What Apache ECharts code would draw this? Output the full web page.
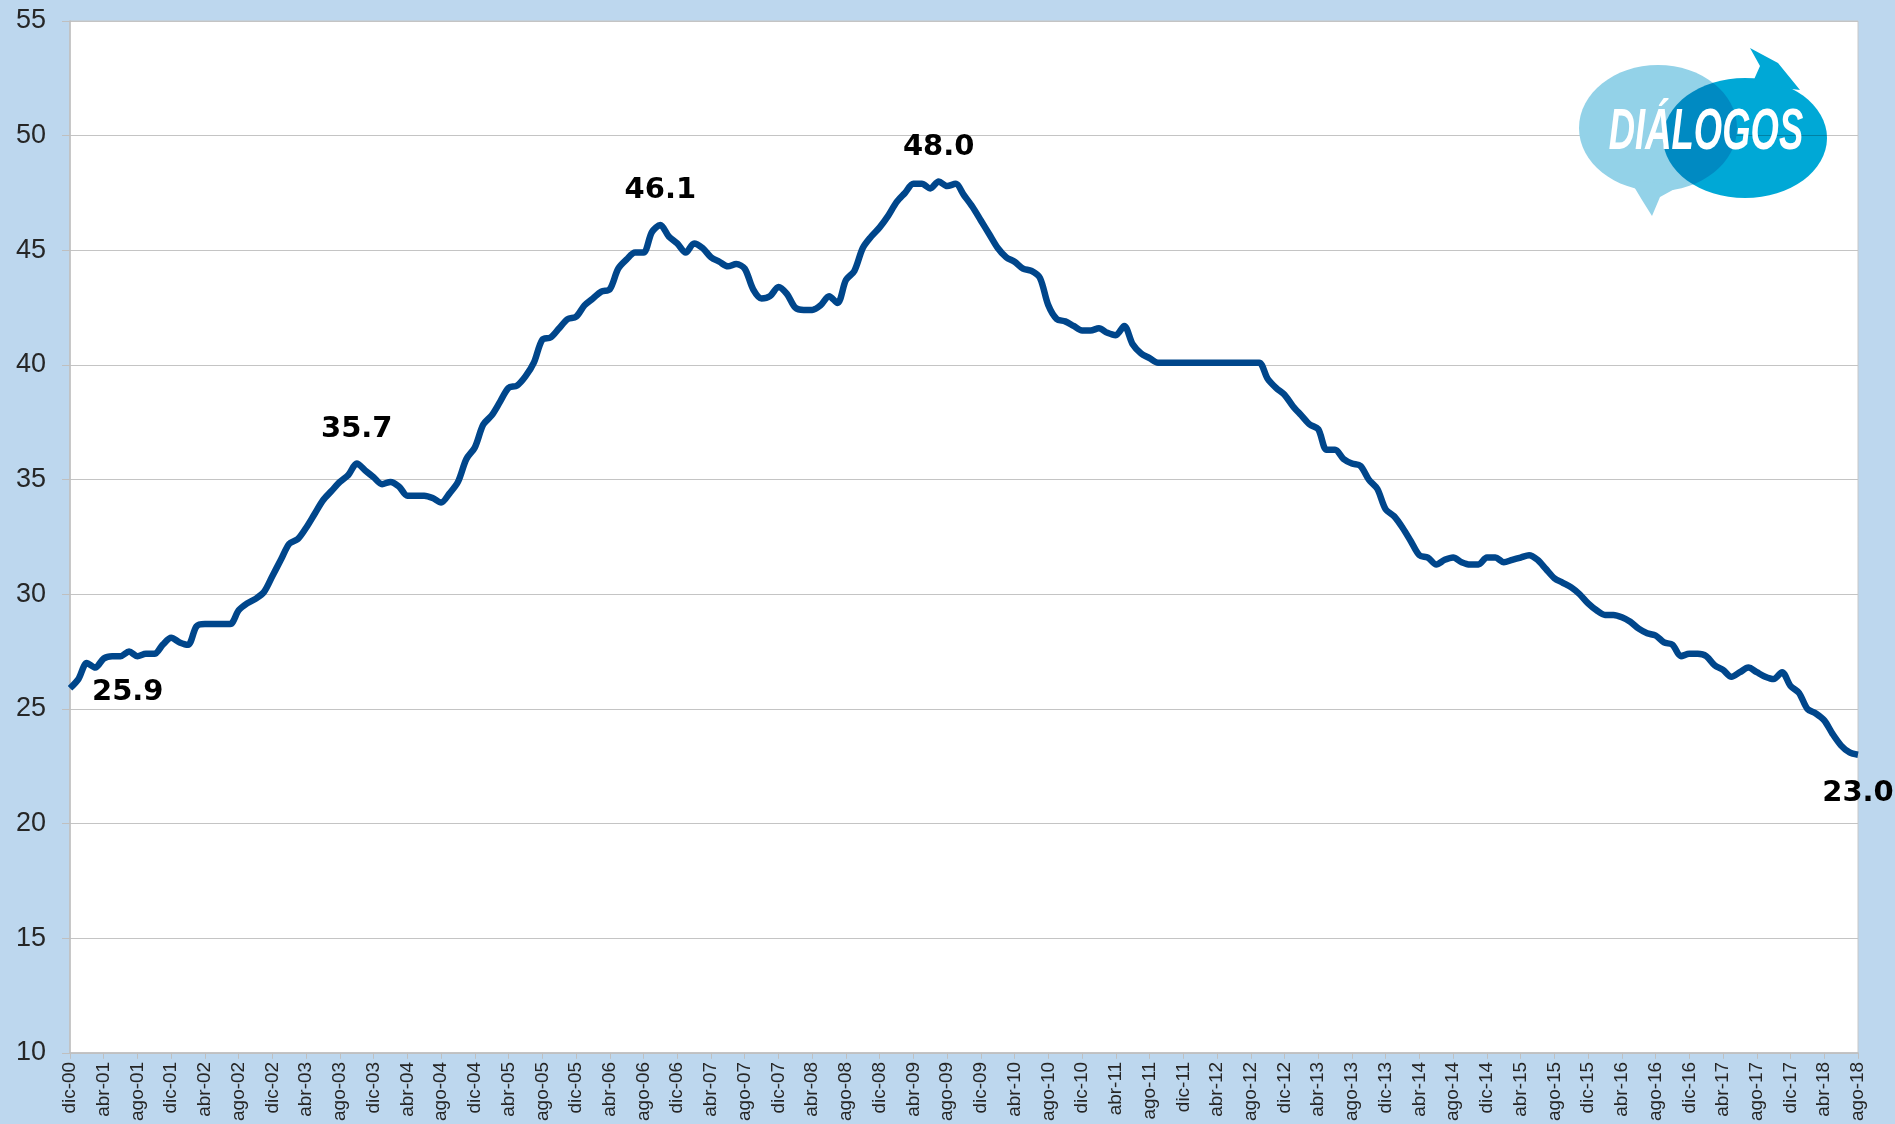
<!DOCTYPE html>
<html>
<head>
<meta charset="utf-8">
<script src="https://cdn.jsdelivr.net/npm/echarts@6/dist/echarts.min.js"></script>
<style>
  html, body { margin: 0; padding: 0; background: #bdd7ee; }
  #chart { width: 1895px; height: 1124px; }
</style>
</head>
<body>
<div id="chart"></div>
<script>
// meses en castellano, serie mensual dic-00 .. ago-18
const monthNames = ["ene", "feb", "mar", "abr", "may", "jun", "jul", "ago", "sep", "oct", "nov", "dic"];
const startYear = 2000;
const startMonth = 11; // dic

// valores, por bloques (el primero incluye dic-00)
const values2001 = [25.9, 26.3, 27.0, 26.8, 27.2, 27.3, 27.3, 27.5, 27.3, 27.4, 27.4, 27.8, 28.1];
const values2002 = [27.9, 27.8, 28.6, 28.7, 28.7, 28.7, 28.7, 29.3, 29.6, 29.8, 30.1, 30.8];
const values2003 = [31.5, 32.2, 32.4, 32.9, 33.5, 34.1, 34.5, 34.9, 35.2, 35.7, 35.4, 35.1];
const values2004 = [34.8, 34.9, 34.7, 34.3, 34.3, 34.3, 34.2, 34.0, 34.4, 34.9, 35.9, 36.4];
const values2005 = [37.4, 37.8, 38.4, 39.0, 39.1, 39.5, 40.1, 41.1, 41.2, 41.6, 42.0, 42.1];
const values2006 = [42.6, 42.9, 43.2, 43.3, 44.2, 44.6, 44.9, 44.9, 45.8, 46.1, 45.6, 45.3];
const values2007 = [44.9, 45.3, 45.1, 44.7, 44.5, 44.3, 44.4, 44.2, 43.3, 42.9, 43.0, 43.4];
const values2008 = [43.1, 42.5, 42.4, 42.4, 42.6, 43.0, 42.7, 43.7, 44.1, 45.1, 45.6, 46.0];
const values2009 = [46.5, 47.1, 47.5, 47.9, 47.9, 47.7, 48.0, 47.8, 47.9, 47.4, 46.9, 46.3];
const values2010 = [45.7, 45.1, 44.7, 44.5, 44.2, 44.1, 43.8, 42.6, 42.0, 41.9, 41.7, 41.5];
const values2011 = [41.5, 41.6, 41.4, 41.3, 41.7, 40.9, 40.5, 40.3, 40.1, 40.1, 40.1, 40.1];
const values2012 = [40.1, 40.1, 40.1, 40.1, 40.1, 40.1, 40.1, 40.1, 40.1, 39.4, 39.0, 38.7];
const values2013 = [38.2, 37.8, 37.4, 37.2, 36.3, 36.3, 35.9, 35.7, 35.6, 35.0, 34.6, 33.7];
const values2014 = [33.4, 32.9, 32.3, 31.7, 31.6, 31.3, 31.5, 31.6, 31.4, 31.3, 31.3, 31.6];
const values2015 = [31.6, 31.4, 31.5, 31.6, 31.7, 31.5, 31.1, 30.7, 30.5, 30.3, 30.0, 29.6];
const values2016 = [29.3, 29.1, 29.1, 29.0, 28.8, 28.5, 28.3, 28.2, 27.9, 27.8, 27.3, 27.4];
const values2017 = [27.4, 27.3, 26.9, 26.7, 26.4, 26.6, 26.8, 26.6, 26.4, 26.3, 26.6, 26.0];
const values2018 = [25.7, 25.0, 24.8, 24.5, 23.9, 23.4, 23.1, 23.0];

const values = [].concat(values2001, values2002, values2003, values2004, values2005,
  values2006, values2007, values2008, values2009, values2010, values2011, values2012,
  values2013, values2014, values2015, values2016, values2017, values2018);

// puntos con etiqueta
const labelIndex = [0, 34, 70, 103, 212];
const labelPos = ["right", "top", "top", "top", "bottom"];

const yTicks = [10, 15, 20, 25, 30, 35, 40, 45, 50, 55];

const categories = values.map((v, i) => {
  const m = (startMonth + i) % 12;
  const y = startYear + Math.floor((startMonth + i) / 12);
  return monthNames[m] + "-" + String(y % 100).padStart(2, "0");
});

const seriesData = values.map((v, i) => {
  const k = labelIndex.indexOf(i);
  if (k < 0) return v;
  const pos = labelPos[k];
  return {
    value: v,
    label: {
      show: true,
      position: pos,
      distance: pos === "right" ? 22 : (pos === "bottom" ? 24 : 20),
      offset: pos === "right" ? [0, 4] : [0, 0],
    },
  };
});

const chart = echarts.init(document.getElementById("chart"));

const option = {
  animation: false,
  backgroundColor: "#bdd7ee",
  grid: {
    left: 70,
    right: 37,
    top: 21,
    bottom: 70,
    show: true,
    backgroundColor: "#ffffff",
    borderColor: "#c8c8c8",
    borderWidth: 1,
  },
  xAxis: {
    type: "category",
    data: categories,
    boundaryGap: false,
    axisLine: { lineStyle: { color: "#bfbfbf", width: 1.5 } },
    axisTick: { interval: 3, length: 6, lineStyle: { color: "#bfbfbf" } },
    axisLabel: {
      interval: 3,
      rotate: 90,
      margin: 9,
      fontFamily: "Liberation Sans",
      fontSize: 19,
      color: "#262626",
    },
    splitLine: { show: false },
  },
  yAxis: {
    type: "value",
    min: yTicks[0],
    max: yTicks[yTicks.length - 1],
    interval: 5,
    axisLine: { show: true, lineStyle: { color: "#bfbfbf", width: 1.5 } },
    axisTick: { show: true, length: 8, lineStyle: { color: "#bfbfbf" } },
    axisLabel: {
      margin: 24,
      fontFamily: "Liberation Sans",
      fontSize: 27,
      color: "#262626",
    },
    splitLine: { lineStyle: { color: "#c4c4c4", width: 1.2 } },
  },
  series: [
    {
      type: "line",
      data: seriesData,
      smooth: 0.3,
      symbol: "circle",
      symbolSize: 0,
      showAllSymbol: true,
      silent: true,
      lineStyle: { color: "#00468b", width: 6.5 },
      itemStyle: { color: "#00468b" },
      label: {
        show: false,
        formatter: (p) => p.value.toFixed(1),
        fontFamily: "DejaVu Sans",
        fontWeight: "bold",
        fontSize: 29,
        color: "#000000",
      },
      emphasis: { disabled: true },
      z: 3,
    },
  ],
  graphic: [
    // logo DIALOGOS
    { type: "ellipse", shape: { cx: 1658, cy: 128, rx: 79, ry: 63 }, style: { fill: "#93d2e8" }, z: 10 },
    {
      type: "polygon",
      shape: { points: [[1630, 180], [1642, 200], [1652, 216], [1660, 197], [1680, 186]] },
      style: { fill: "#93d2e8" },
      z: 10,
    },
    { type: "ellipse", shape: { cx: 1745, cy: 138, rx: 82, ry: 60 }, style: { fill: "#00a8d6", blend: "multiply" }, z: 11 },
    {
      type: "polygon",
      shape: { points: [[1752, 84], [1760, 66], [1750, 48], [1778, 63], [1800, 90]] },
      style: { fill: "#00a8d6" },
      z: 11,
    },
    {
      type: "text",
      x: 1706,
      y: 133,
      scaleX: 0.64,
      style: {
        text: "DIÁLOGOS",
        fill: "#ffffff",
        font: "italic bold 57px 'Liberation Sans'",
        align: "center",
        verticalAlign: "middle",
      },
      z: 12,
    },
  ],
};

chart.setOption(option);
</script>
</body>
</html>
